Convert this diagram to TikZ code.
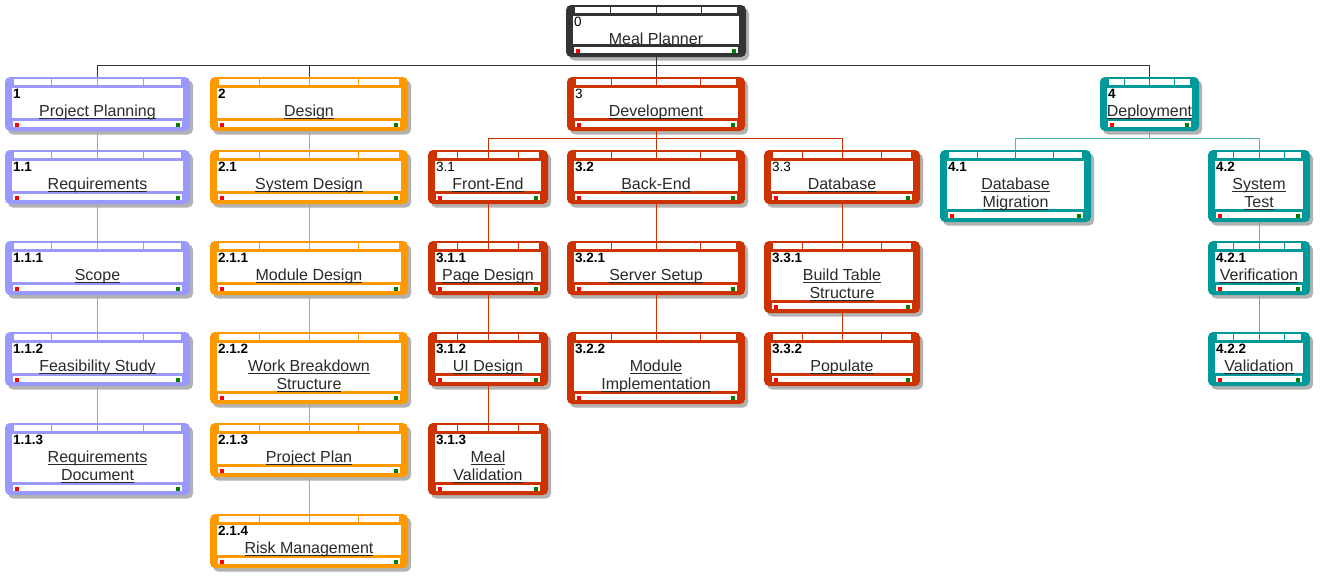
\documentclass[tikz,border=0pt]{standalone}
\usepackage{fontspec}
\setmainfont{Liberation Sans}
\usetikzlibrary{calc,shadows}

\definecolor{rootc}{HTML}{333333}
\definecolor{planc}{HTML}{9999FF}
\definecolor{designc}{HTML}{FF9900}
\definecolor{devc}{HTML}{CC3300}
\definecolor{deployc}{HTML}{009999}
\definecolor{textc}{HTML}{2A2A2A}
\definecolor{okc}{HTML}{007F00}

% underlined title text, rule at a fixed depth
\newcommand{\ultext}[1]{\setbox0\hbox{#1}\rlap{\rule[-2.4pt]{\wd0}{0.9pt}}\box0}

\tikzset{
  wbsbox/.style={rounded corners=5pt, inner sep=0pt, draw=none,
    drop shadow={shadow xshift=3pt, shadow yshift=-3.5pt, opacity=0.3, fill=black}},
  wbsnum/.style={anchor=north west, inner sep=0pt, text=black,
    font=\fontsize{13.5}{15}\selectfont},
  wbstitle/.style={anchor=north, inner sep=0pt, align=center, text=textc,
    font=\fontsize{16}{18}\selectfont},
  chain/.style={line width=0.9pt},
  bus/.style={line width=0.9pt},
}

% name, x1, y1, x2, y2, colour, number, title, weight of the number
\newcommand{\wbsnode}[9]{%
  \node[wbsbox, fill=#6, minimum width={(#4-#2)*1pt}, minimum height={(#5-#3)*1pt}]
    (#1) at ({(#2+#4)/2},{(#3+#5)/2}) {};
  \fill[white] ($(#1.north west)+(7,11)$) rectangle ($(#1.south east)+(-7,-13)$);
  \fill[white] ($(#1.north west)+(9,2)$) rectangle ($(#1.north east)+(-9,8)$);
  \foreach \q in {0.25,0.5,0.75}
    \draw[#6, line width=0.9pt] ($(#1.north west)!\q!(#1.north east)+(0,2)$) -- ++(0,6);
  \fill[white] ($(#1.south west)+(8,-10)$) rectangle ($(#1.south east)+(-8,-4)$);
  \fill[red] ($(#1.south west)+(10,-8.5)$) rectangle ++(4,4);
  \fill[okc] ($(#1.south east)+(-14,-8.5)$) rectangle ++(4,4);
  \node[wbsnum] (#1-num) at ($(#1.north west)+(8,12)$) {#9#7};
  \node[wbstitle] (#1-title) at ($(#1.north)+(0,27.5)$) {\rule{0pt}{12pt}#8};
}

\begin{document}
\begin{tikzpicture}[x=1pt, y=-1pt]
  \useasboundingbox (0,0) rectangle (1324,584);

  % level 0 and 1
  \wbsnode{root}{566}{5}{746}{57}{rootc}{0}{\ultext{Meal Planner}}{\mdseries}
  \wbsnode{plan}{5}{77}{190}{131}{planc}{1}{\ultext{Project Planning}}{\bfseries}
  \wbsnode{design}{210}{77}{408}{131}{designc}{2}{\ultext{Design}}{\bfseries}
  \wbsnode{dev}{567}{77}{745}{131}{devc}{3}{\ultext{Development}}{\mdseries}
  \wbsnode{deploy}{1100}{77}{1199}{131}{deployc}{4}{\ultext{Deployment}}{\bfseries}

  % level 2
  \wbsnode{req}{5}{150}{190}{204}{planc}{1.1}{\ultext{Requirements}}{\bfseries}
  \wbsnode{sysdes}{210}{150}{408}{204}{designc}{2.1}{\ultext{System Design}}{\bfseries}
  \wbsnode{front}{428}{150}{548}{204}{devc}{3.1}{\ultext{Front-End}}{\mdseries}
  \wbsnode{back}{567}{150}{745}{204}{devc}{3.2}{\ultext{Back-End}}{\bfseries}
  \wbsnode{db}{764}{150}{920}{204}{devc}{3.3}{\ultext{Database}}{\mdseries}
  \wbsnode{dbmig}{940}{150}{1091}{222}{deployc}{4.1}{\ultext{Database}\\\ultext{Migration}}{\bfseries}
  \wbsnode{systest}{1208}{150}{1310}{222}{deployc}{4.2}{\ultext{System}\\\ultext{Test}}{\bfseries}

  % level 3
  \wbsnode{scope}{5}{241}{190}{295}{planc}{1.1.1}{\ultext{Scope}}{\bfseries}
  \wbsnode{moddes}{210}{241}{408}{295}{designc}{2.1.1}{\ultext{Module Design}}{\bfseries}
  \wbsnode{page}{428}{241}{548}{295}{devc}{3.1.1}{\ultext{Page Design}}{\bfseries}
  \wbsnode{server}{567}{241}{745}{295}{devc}{3.2.1}{\ultext{Server Setup}}{\bfseries}
  \wbsnode{table}{764}{241}{920}{313}{devc}{3.3.1}{\ultext{Build Table}\\\ultext{Structure}}{\bfseries}
  \wbsnode{verif}{1208}{241}{1310}{295}{deployc}{4.2.1}{\ultext{Verification}}{\bfseries}

  % level 4
  \wbsnode{feas}{5}{332}{190}{386}{planc}{1.1.2}{\ultext{Feasibility Study}}{\bfseries}
  \wbsnode{wbs}{210}{332}{408}{404}{designc}{2.1.2}{\ultext{Work Breakdown}\\\ultext{Structure}}{\bfseries}
  \wbsnode{ui}{428}{332}{548}{386}{devc}{3.1.2}{\ultext{UI Design}}{\bfseries}
  \wbsnode{modimp}{567}{332}{745}{404}{devc}{3.2.2}{\ultext{Module}\\\ultext{Implementation}}{\bfseries}
  \wbsnode{populate}{764}{332}{920}{386}{devc}{3.3.2}{\ultext{Populate}}{\bfseries}
  \wbsnode{valid}{1208}{332}{1310}{386}{deployc}{4.2.2}{\ultext{Validation}}{\bfseries}

  % level 5 and 6
  \wbsnode{reqdoc}{5}{423}{190}{495}{planc}{1.1.3}{\ultext{Requirements}\\\ultext{Document}}{\bfseries}
  \wbsnode{projplan}{210}{423}{408}{477}{designc}{2.1.3}{\ultext{Project Plan}}{\bfseries}
  \wbsnode{mealval}{428}{423}{548}{495}{devc}{3.1.3}{\ultext{Meal}\\\ultext{Validation}}{\bfseries}
  \wbsnode{risk}{210}{514}{408}{568}{designc}{2.1.4}{\ultext{Risk Management}}{\bfseries}

  % buses
  \coordinate (rootbus) at (656,65);
  \coordinate (devbus) at (656,138);
  \coordinate (deploybus) at (1149.5,138);
  \foreach \c in {plan,design,dev,deploy}
    \draw[bus, rootc] (root.south) -- (rootbus) -| (\c.north);
  \foreach \c in {front,back,db}
    \draw[bus, devc] (dev.south) -- (devbus) -| (\c.north);
  \foreach \c in {dbmig,systest}
    \draw[bus, deployc!70] (deploy.south) -- (deploybus) -| (\c.north);

  % single-child chains
  \foreach \a/\b/\k in {plan/req/planc, req/scope/planc, scope/feas/planc, feas/reqdoc/planc,
      design/sysdes/designc, sysdes/moddes/designc, moddes/wbs/designc,
      wbs/projplan/designc, projplan/risk/designc,
      front/page/devc, page/ui/devc, ui/mealval/devc,
      back/server/devc, server/modimp/devc, db/table/devc, table/populate/devc,
      systest/verif/deployc!70, verif/valid/deployc!70}
    \draw[chain, \k] (\a.south) -- (\b.north);
\end{tikzpicture}
\end{document}
